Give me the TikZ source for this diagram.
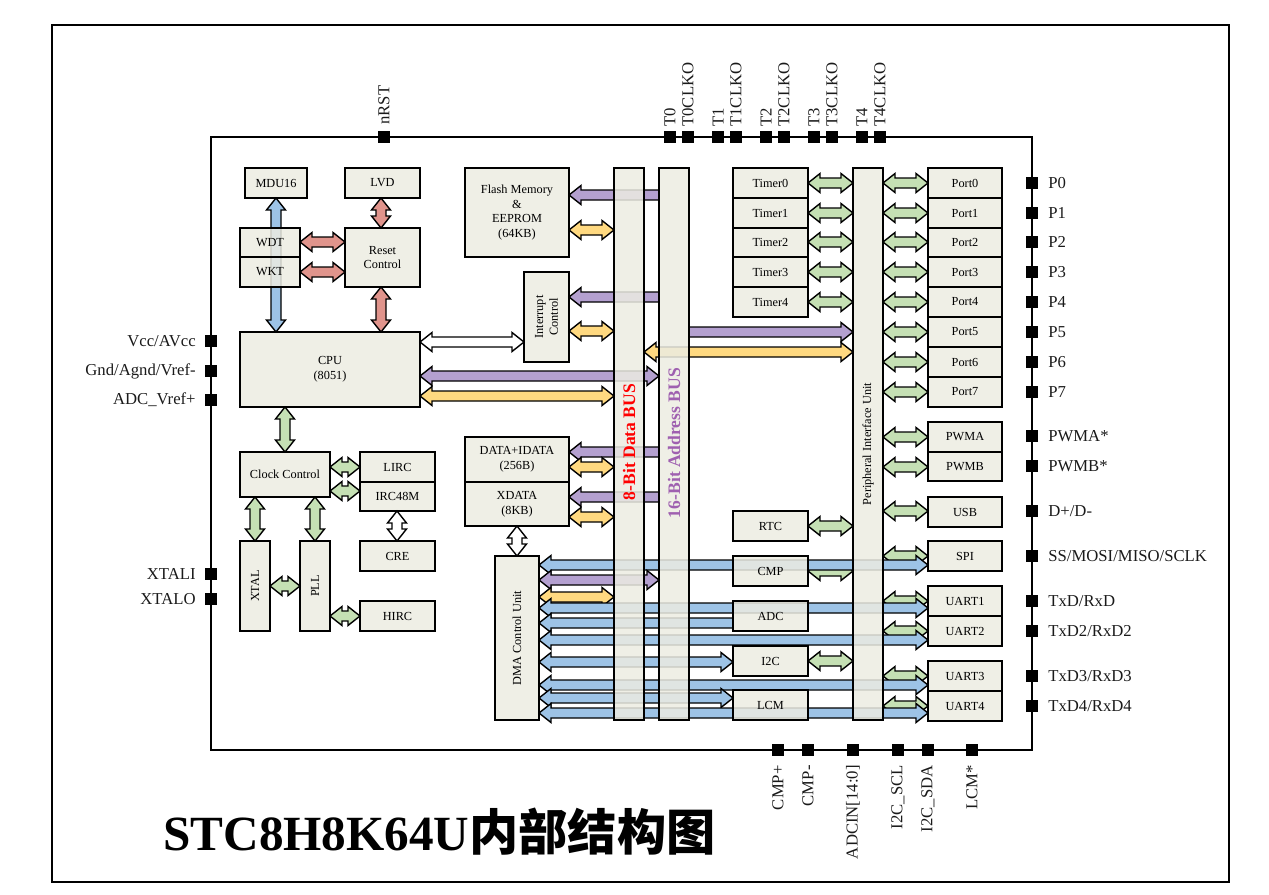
\documentclass[tikz,border=0pt]{standalone}
\usepackage{fontspec}
\setmainfont{Liberation Serif}
\newfontfamily\cjk{Noto Sans CJK SC}
\begin{document}
\definecolor{boxfill}{HTML}{ECECE2}
\definecolor{ablue}{HTML}{9DC3E6}
\definecolor{apurple}{HTML}{B4A0D0}
\definecolor{ayellow}{HTML}{FFD980}
\definecolor{agreen}{HTML}{C5E0B4}
\definecolor{ared}{HTML}{E0948C}
\definecolor{pintext}{HTML}{1A1A1A}
\begin{tikzpicture}[x=0.02cm,y=-0.02cm,
  arr/.style={draw=black,line width=0.8pt,line join=miter},
  blk/.style={draw=black,line width=0.8pt,fill=boxfill,fill opacity=0.85},
  btxt/.style={font=\fontsize{7}{8.5}\selectfont,align=center,inner sep=0},
  ptxt/.style={font=\fontsize{9.5}{11}\selectfont,text=pintext,inner sep=0},
  pin/.style={fill=black}]
\useasboundingbox (0,0) rectangle (1269,894);
\draw[line width=0.6pt] (52,25) rectangle (1229,882);

% fat arrows: colour, x1/y1, x2/y2, position
\newcommand{\hdbl}[4]{\filldraw[arr,fill=#1] (#2,#4) -- ({#2+12},{#4-9.5}) -- ({#2+12},{#4-5}) -- ({#3-12},{#4-5}) -- ({#3-12},{#4-9.5}) -- (#3,#4) -- ({#3-12},{#4+9.5}) -- ({#3-12},{#4+5}) -- ({#2+12},{#4+5}) -- ({#2+12},{#4+9.5}) -- cycle;}
\newcommand{\vdbl}[4]{\filldraw[arr,fill=#1] (#4,#2) -- ({#4-9.5},{#2+12}) -- ({#4-5},{#2+12}) -- ({#4-5},{#3-12}) -- ({#4-9.5},{#3-12}) -- (#4,#3) -- ({#4+9.5},{#3-12}) -- ({#4+5},{#3-12}) -- ({#4+5},{#2+12}) -- ({#4+9.5},{#2+12}) -- cycle;}
% single: colour, tail, head, y
\newcommand{\hsgl}[4]{\pgfmathsetmacro\hd{#3>#2?12:-12}\filldraw[arr,fill=#1] (#2,{#4-5}) -- ({#3-\hd},{#4-5}) -- ({#3-\hd},{#4-9.5}) -- (#3,#4) -- ({#3-\hd},{#4+9.5}) -- ({#3-\hd},{#4+5}) -- (#2,{#4+5}) -- cycle;}
% box: name, x1, y1, x2, y2, text
\newcommand{\bx}[6]{\path[blk] (#2,#3) rectangle (#4,#5);\pgfmathsetmacro\cx{(#2+#4)/2}\pgfmathsetmacro\cy{(#3+#5)/2}\node[btxt] (#1) at (\cx,\cy) {#6};}
\newcommand{\vbx}[6]{\path[blk] (#2,#3) rectangle (#4,#5);\pgfmathsetmacro\cx{(#2+#4)/2}\pgfmathsetmacro\cy{(#3+#5)/2}\node[btxt,rotate=90] (#1) at (\cx,\cy) {#6};}

% left side arrows
\vdbl{ablue}{198}{332}{276}
\vdbl{ared}{198}{228}{381}
\vdbl{ared}{287}{332}{381}
\hdbl{ared}{300}{345}{242}
\hdbl{ared}{300}{345}{272}
\vdbl{agreen}{407}{452}{285}
\hdbl{agreen}{330}{360}{467}
\hdbl{agreen}{330}{360}{491}
\vdbl{agreen}{497}{541}{255}
\vdbl{agreen}{497}{541}{315}
\hdbl{agreen}{270}{300}{586}
\hdbl{agreen}{330}{360}{616}
\vdbl{white}{511}{541}{397}
\vdbl{white}{526}{556}{517}
\hdbl{white}{420}{524}{342}
\hdbl{apurple}{420}{659}{376}
\hdbl{ayellow}{420}{614}{396}
% memory arrows
\hsgl{apurple}{659}{569}{195}
\hdbl{ayellow}{569}{614}{230}
\hsgl{apurple}{659}{569}{297}
\hdbl{ayellow}{569}{614}{331}
\hsgl{apurple}{659}{569}{452}
\hdbl{ayellow}{569}{614}{467}
\hsgl{apurple}{659}{569}{497}
\hdbl{ayellow}{569}{614}{517}
\hsgl{apurple}{689}{853}{332}
\hdbl{ayellow}{644}{853}{352}
% timers and ports
\foreach \y in {183,213,242,272,302} {\hdbl{agreen}{808}{853}{\y}}
\foreach \y in {183,213,242,272,302,332,362,392,437,467,511,556,601,631,676,706} {\hdbl{agreen}{883}{928}{\y}}
\hdbl{agreen}{808}{853}{526}
\hdbl{agreen}{808}{853}{571}
\hdbl{agreen}{808}{853}{661}
% DMA arrows
\hdbl{ablue}{539}{928}{565}
\hdbl{apurple}{539}{659}{580}
\hdbl{ayellow}{539}{614}{597}
\hdbl{ablue}{539}{928}{608}
\hsgl{ablue}{733}{539}{623}
\hdbl{ablue}{539}{928}{640}
\hdbl{ablue}{539}{733}{662}
\hdbl{ablue}{539}{928}{685}
\hdbl{ablue}{539}{733}{698}
\hdbl{ablue}{539}{928}{713}

% chip outline
\draw[line width=0.8pt] (211,137) rectangle (1032,750);

% blocks
\bx{mdu}{245}{168}{307}{198}{MDU16}
\bx{lvd}{345}{168}{420}{198}{LVD}
\bx{wdt}{240}{228}{300}{257}{WDT}
\bx{wkt}{240}{257}{300}{287}{WKT}
\bx{rst}{345}{228}{420}{287}{Reset\\Control}
\bx{cpu}{240}{332}{420}{407}{CPU\\(8051)}
\bx{clk}{240}{452}{330}{497}{Clock Control}
\bx{lirc}{360}{452}{435}{482}{LIRC}
\bx{irc}{360}{482}{435}{511}{IRC48M}
\bx{cre}{360}{541}{435}{571}{CRE}
\vbx{xtal}{240}{541}{270}{631}{XTAL}
\vbx{pll}{300}{541}{330}{631}{PLL}
\bx{hirc}{360}{601}{435}{631}{HIRC}
\bx{flash}{465}{168}{569}{257}{Flash Memory\\\&\\EEPROM\\(64KB)}
\vbx{intc}{524}{272}{569}{362}{Interrupt\\Control}
\bx{data}{465}{437}{569}{482}{DATA+IDATA\\(256B)}
\bx{xdata}{465}{482}{569}{526}{XDATA\\(8KB)}
\vbx{dma}{495}{556}{539}{720}{DMA Control Unit}
\path[blk] (614,168) rectangle (644,720);
\node[rotate=90,inner sep=0,text=red,font=\fontsize{10}{12}\selectfont\bfseries] (dbus) at (629,442) {8-Bit Data BUS};
\path[blk] (659,168) rectangle (689,720);
\node[rotate=90,inner sep=0,text=apurple!60!violet,font=\fontsize{10}{12}\selectfont\bfseries] (abus) at (674,443) {16-Bit Address BUS};
\vbx{piu}{853}{168}{883}{720}{Peripheral Interface Unit}
\bx{tm0}{733}{168}{808}{198}{Timer0}
\bx{tm1}{733}{198}{808}{228}{Timer1}
\bx{tm2}{733}{228}{808}{257}{Timer2}
\bx{tm3}{733}{257}{808}{287}{Timer3}
\bx{tm4}{733}{287}{808}{317}{Timer4}
\bx{pt0}{928}{168}{1002}{198}{Port0}
\bx{pt1}{928}{198}{1002}{228}{Port1}
\bx{pt2}{928}{228}{1002}{257}{Port2}
\bx{pt3}{928}{257}{1002}{287}{Port3}
\bx{pt4}{928}{287}{1002}{317}{Port4}
\bx{pt5}{928}{317}{1002}{347}{Port5}
\bx{pt6}{928}{347}{1002}{377}{Port6}
\bx{pt7}{928}{377}{1002}{407}{Port7}
\bx{pwma}{928}{422}{1002}{452}{PWMA}
\bx{pwmb}{928}{452}{1002}{481}{PWMB}
\bx{usb}{928}{497}{1002}{527}{USB}
\bx{spi}{928}{541}{1002}{571}{SPI}
\bx{u1}{928}{586}{1002}{616}{UART1}
\bx{u2}{928}{616}{1002}{646}{UART2}
\bx{u3}{928}{661}{1002}{691}{UART3}
\bx{u4}{928}{691}{1002}{721}{UART4}
\bx{rtc}{733}{511}{808}{541}{RTC}
\bx{cmp}{733}{556}{808}{586}{CMP}
\bx{adc}{733}{601}{808}{631}{ADC}
\bx{i2c}{733}{646}{808}{676}{I2C}
\bx{lcm}{733}{690}{808}{720}{LCM}

% pins
\fill[pin] (378,131) rectangle (390,143);
\node[ptxt,rotate=90,anchor=west] at (384,125) {nRST};
\foreach \x/\t in {670/T0,688/T0CLKO,718/T1,736/T1CLKO,766/T2,784/T2CLKO,814/T3,832/T3CLKO,862/T4,880/T4CLKO}
  {\fill[pin] ({\x-6},131) rectangle ({\x+6},143); \node[ptxt,rotate=90,anchor=west] at (\x,127) {\t};}
\foreach \y/\t in {183/P0,213/P1,242/P2,272/P3,302/P4,332/P5,362/P6,392/P7,436/PWMA*,466/PWMB*,511/{D+/D-},556/{SS/MOSI/MISO/SCLK},601/{TxD/RxD},631/{TxD2/RxD2},676/{TxD3/RxD3},706/{TxD4/RxD4}}
  {\fill[pin] (1026,{\y-6}) rectangle (1038,{\y+6}); \node[ptxt,anchor=west] at (1048,\y) {\t};}
\foreach \y/\t in {341/{Vcc/AVcc},371/{Gnd/Agnd/Vref-},400/ADC\_Vref+,574/XTALI,599/XTALO}
  {\fill[pin] (205,{\y-6}) rectangle (217,{\y+6}); \node[ptxt,anchor=east] at (196,\y) {\t};}
\foreach \x/\t in {778/CMP+,808/CMP-,853/ADCIN[14:0],898/I2C\_SCL,928/I2C\_SDA,972/LCM*}
  {\fill[pin] ({\x-6},744) rectangle ({\x+6},756); \node[ptxt,rotate=90,anchor=east] at (\x,765) {\t};}

% title
\node[anchor=west,inner sep=0,font=\fontsize{28}{30}\selectfont\bfseries] (title) at (163,832) {STC8H8K64U{\cjk 内部结构图}};
\end{tikzpicture}
\end{document}
